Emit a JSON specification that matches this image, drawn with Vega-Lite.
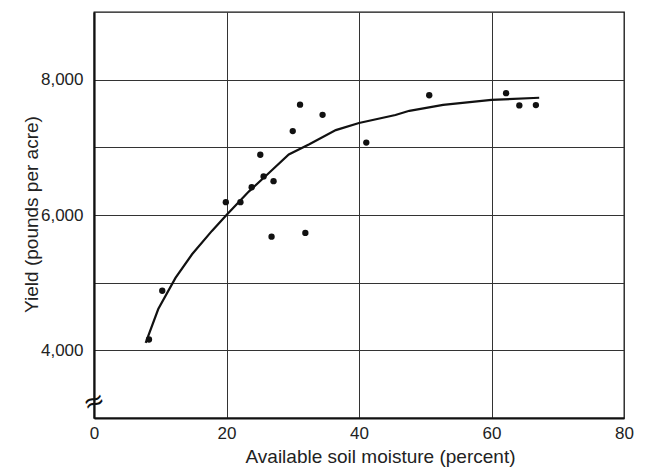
{
  "$schema": "https://vega.github.io/schema/vega-lite/v6.json",
  "width": 530,
  "height": 406,
  "autosize": {"type": "none"},
  "padding": {"left": 94, "top": 12, "right": 21, "bottom": 50},
  "background": "white",
  "config": {
    "font": "Liberation Sans",
    "view": {"stroke": "#111", "strokeWidth": 1.3},
    "axis": {
      "labelFont": "Liberation Sans",
      "titleFont": "Liberation Sans",
      "labelFontSize": 17,
      "titleFontSize": 19,
      "labelColor": "#222",
      "titleColor": "#222",
      "titleFontWeight": "normal",
      "ticks": false,
      "domainColor": "#111",
      "domainWidth": 2.2,
      "gridColor": "#333",
      "gridWidth": 1,
      "gridOpacity": 1
    }
  },
  "datasets": {
    "obs": [
      {"moisture": 8.3, "yield": 4160},
      {"moisture": 10.3, "yield": 4880},
      {"moisture": 19.9, "yield": 6190},
      {"moisture": 22.1, "yield": 6190},
      {"moisture": 23.8, "yield": 6410},
      {"moisture": 25.1, "yield": 6890},
      {"moisture": 25.6, "yield": 6570},
      {"moisture": 27.1, "yield": 6500},
      {"moisture": 26.8, "yield": 5680},
      {"moisture": 31.9, "yield": 5735},
      {"moisture": 30.0, "yield": 7240},
      {"moisture": 31.1, "yield": 7630},
      {"moisture": 34.5, "yield": 7480},
      {"moisture": 41.1, "yield": 7070},
      {"moisture": 50.6, "yield": 7770},
      {"moisture": 62.2, "yield": 7800},
      {"moisture": 64.2, "yield": 7620},
      {"moisture": 66.7, "yield": 7625}
    ],
    "fit": [
      {"moisture": 7.8, "yield": 4110},
      {"moisture": 9.7, "yield": 4610},
      {"moisture": 12.3, "yield": 5070},
      {"moisture": 14.8, "yield": 5420},
      {"moisture": 17.8, "yield": 5765},
      {"moisture": 20.0, "yield": 6000},
      {"moisture": 23.4, "yield": 6350},
      {"moisture": 26.4, "yield": 6620},
      {"moisture": 29.4, "yield": 6895},
      {"moisture": 32.5, "yield": 7045},
      {"moisture": 36.5, "yield": 7255},
      {"moisture": 40.0, "yield": 7360},
      {"moisture": 45.5, "yield": 7478},
      {"moisture": 47.6, "yield": 7540},
      {"moisture": 52.7, "yield": 7628},
      {"moisture": 60.0, "yield": 7700},
      {"moisture": 67.2, "yield": 7733}
    ],
    "brk": [
      {"moisture": 0, "yield": 3240}
    ]
  },
  "layer": [
    {
      "data": {"name": "fit"},
      "mark": {"type": "line", "color": "#111", "strokeWidth": 2.2},
      "encoding": {
        "x": {
          "field": "moisture", "type": "quantitative",
          "scale": {"domain": [0, 80], "nice": false, "zero": false},
          "axis": {
            "values": [0, 20, 40, 60, 80],
            "title": "Available soil moisture (percent)",
            "labelPadding": 7,
            "labelFlush": false,
            "titleX": 286,
            "titleY": 44,
            "titleBaseline": "alphabetic"
          }
        },
        "y": {
          "field": "yield", "type": "quantitative",
          "scale": {"domain": [3000, 9000], "nice": false, "zero": false},
          "axis": {
            "values": [4000, 5000, 6000, 7000, 8000],
            "labelExpr": "datum.value % 2000 == 0 ? format(datum.value, ',') : ''",
            "title": "Yield (pounds per acre)",
            "labelPadding": 11,
            "titleX": -57,
            "titleY": 202,
            "titleBaseline": "alphabetic"
          }
        }
      }
    },
    {
      "data": {"name": "obs"},
      "mark": {"type": "circle", "color": "#111", "opacity": 1, "size": 40},
      "encoding": {
        "x": {"field": "moisture", "type": "quantitative"},
        "y": {"field": "yield", "type": "quantitative"}
      }
    },
    {
      "data": {"name": "brk"},
      "mark": {"type": "text", "text": "≈", "fontSize": 26, "color": "#111", "angle": -20, "font": "DejaVu Sans", "baseline": "middle", "align": "center"},
      "encoding": {
        "x": {"field": "moisture", "type": "quantitative"},
        "y": {"field": "yield", "type": "quantitative"}
      }
    }
  ]
}
